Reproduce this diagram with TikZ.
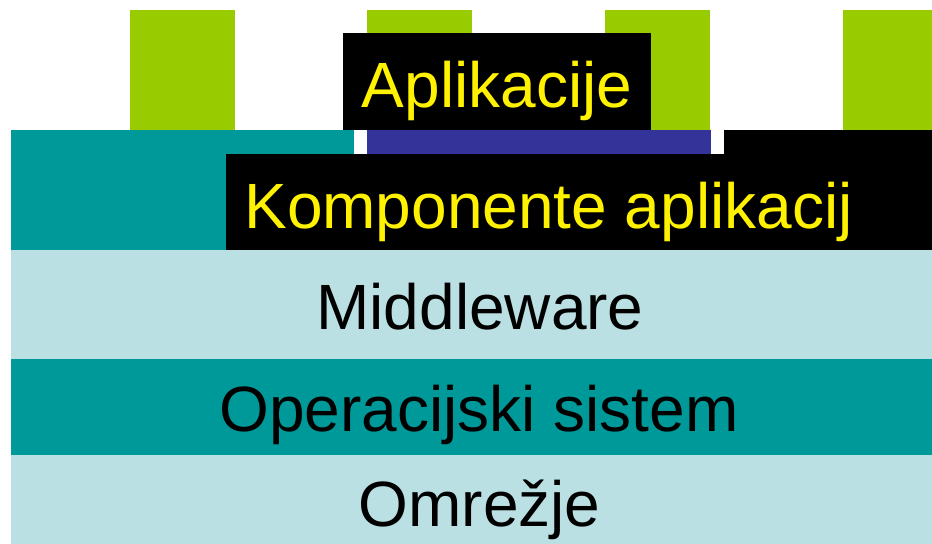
\documentclass[tikz,border=0pt]{standalone}
\usepackage{fontspec}
\setmainfont{Liberation Sans}
\definecolor{zelena}{HTML}{99CC00}
\definecolor{temna}{HTML}{009999}
\definecolor{svetla}{HTML}{BBE0E3}
\definecolor{modra}{HTML}{333399}
\begin{document}
\begin{tikzpicture}[x=0.5pt, y=-0.5pt,
        napis/.style={font=\fontsize{32}{36}\selectfont, inner sep=0pt, anchor=base}]
        \clip (0,0) rectangle (932,544);
        % aplikacije na vrhu
        \foreach \x in {130,367,605,843}
        {
            \fill[zelena] (\x,10) rectangle ++(105,120);
        }
        \fill[temna]  (11,130)  rectangle (354,250);
        \fill[modra]  (367,130) rectangle (711,154);
        \fill[black]  (724,130) rectangle (950,250);
        \fill[black]  (226,154) rectangle (872,250);
        \fill[black]  (343,33)  rectangle (651,130);

        % sloji
        \fill[svetla] (11,250) rectangle (950,359);
        \fill[temna]  (11,359) rectangle (950,455);
        \fill[svetla] (11,455) rectangle (950,560);

        \node[napis, yellow] (apl)  at (497,108)   {Aplikacije};
        \node[napis, yellow] (komp) at (548.5,229) {Komponente aplikacij};
        \node[napis]         (mid)  at (480,330)   {Middleware};
        \node[napis]         (os)   at (479,432)   {Operacijski sistem};
        \node[napis]         (omr)  at (479.5,527) {Omrežje};
    \end{tikzpicture}
\end{document}
